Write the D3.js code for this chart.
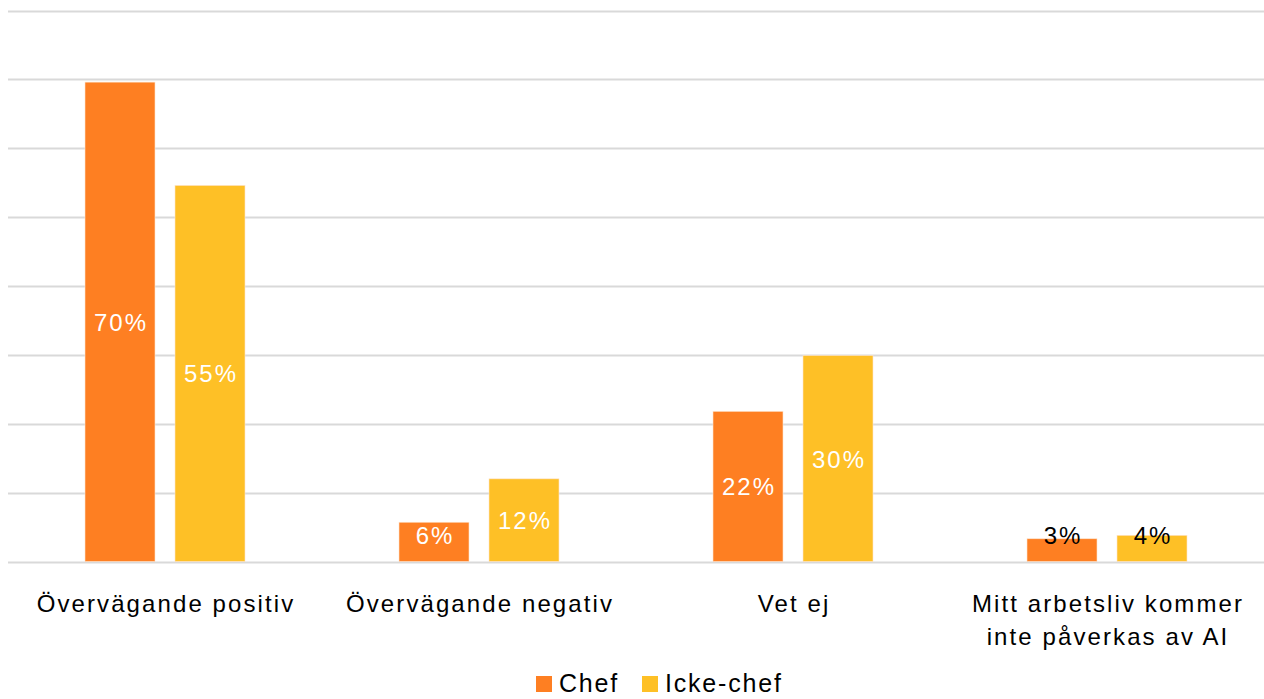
<!DOCTYPE html>
<html>
<head>
<meta charset="utf-8">
<script src="https://cdn.jsdelivr.net/npm/d3@7"></script>
<style>
  html, body { margin: 0; padding: 0; background: #fff; }
  svg { display: block; font-family: "Liberation Sans", Arial, sans-serif; }
</style>
</head>
<body>
<svg width="1264" height="699"></svg>
<script>
const categories = ["Övervägande positiv", "Övervägande negativ", "Vet ej", "Mitt arbetsliv kommer|inte påverkas av AI"];
const series = ["Chef", "Icke-chef"];
// values; labels show them rounded
const chef = [69.6, 5.7, 21.8, 3.3];
const ickeChef = [54.6, 12.0, 29.9, 3.8];
const yTicks = [0, 10, 20, 30, 40, 50, 60, 70, 80];

const colors = { "Chef": "#fe7f22", "Icke-chef": "#fec026" };

const svg = d3.select("svg");
const plotLeft = 8, plotRight = 1264, plotTop = 10.5, plotBottom = 561.5;
const spacing = 2;

const x0 = d3.scaleBand().domain(categories).range([plotLeft, plotRight]);
const x1 = d3.scaleBand().domain(series).range([0, x0.bandwidth()])
  .paddingInner(0.2222).paddingOuter(0.8556);
const y = d3.scaleLinear().domain([0, 80]).range([plotBottom, plotTop]);

// gridlines
svg.append("g")
  .selectAll("line")
  .data(yTicks)
  .join("line")
    .attr("x1", plotLeft)
    .attr("x2", plotRight)
    .attr("y1", d => Math.round(y(d)) + 0.5)
    .attr("y2", d => Math.round(y(d)) + 0.5)
    .attr("stroke", "#d9d9d9")
    .attr("stroke-width", 2);

const rows = categories.map((c, i) => ({ cat: c, vals: [
  { s: "Chef", v: chef[i] },
  { s: "Icke-chef", v: ickeChef[i] }
]}));

const group = svg.append("g")
  .selectAll("g")
  .data(rows)
  .join("g")
    .attr("transform", d => `translate(${x0(d.cat)},0)`);

group.selectAll("rect")
  .data(d => d.vals)
  .join("rect")
    .attr("x", d => x1(d.s))
    .attr("width", x1.bandwidth())
    .attr("y", d => y(d.v))
    .attr("height", d => y(0) - y(d.v))
    .attr("fill", d => colors[d.s])
    .attr("stroke", "#fde3cc")
    .attr("stroke-width", 0.6);

group.selectAll("text")
  .data(d => d.vals)
  .join("text")
    .attr("x", d => x1(d.s) + x1.bandwidth() / 2 + spacing / 2)
    .attr("y", d => Math.min((y(d.v) + y(0)) / 2, y(0) - 27) + 9)
    .attr("text-anchor", "middle")
    .attr("font-size", 24)
    .attr("letter-spacing", spacing)
    .attr("fill", d => d.v < 5 ? "#000" : "#fff")
    .text(d => Math.round(d.v) + "%");

// category labels
const xLabels = svg.append("g")
  .selectAll("text")
  .data(categories)
  .join("text")
    .attr("x", d => x0(d) + x0.bandwidth() / 2 + 1)
    .attr("y", 612)
    .attr("text-anchor", "middle")
    .attr("font-size", 24)
    .attr("letter-spacing", 2.1)
    .attr("fill", "#000");

xLabels.selectAll("tspan")
  .data(d => d.split("|"))
  .join("tspan")
    .attr("x", function() { return d3.select(this.parentNode).attr("x"); })
    .attr("dy", (d, i) => i === 0 ? 0 : 33)
    .text(d => d);

// legend
const legend = svg.append("g");
const legendX = [536, 642];
series.forEach((s, i) => {
  legend.append("rect")
    .attr("x", legendX[i])
    .attr("y", 676)
    .attr("width", 16)
    .attr("height", 16)
    .attr("fill", colors[s]);
  legend.append("text")
    .attr("x", legendX[i] + 23)
    .attr("y", 692)
    .attr("font-size", 25)
    .attr("letter-spacing", 1.8)
    .attr("fill", "#000")
    .text(s);
});
</script>
</body>
</html>
